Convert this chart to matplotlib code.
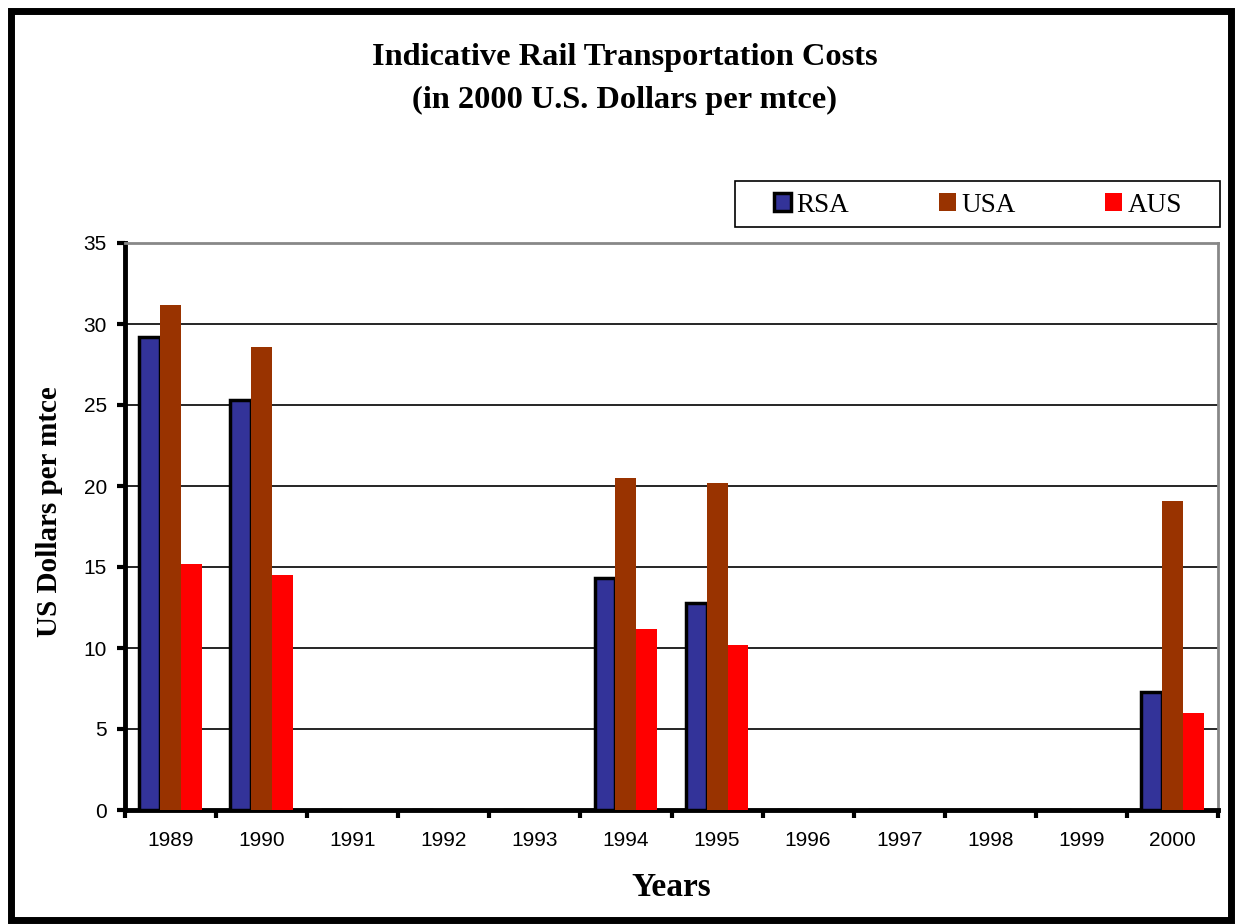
import matplotlib
matplotlib.use("Agg")
import matplotlib.pyplot as plt
import numpy as np
from matplotlib.patches import Rectangle

years = ["1989", "1990", "1991", "1992", "1993", "1994",
         "1995", "1996", "1997", "1998", "1999", "2000"]
rsa = [29.2, 25.3, 0, 0, 0, 14.3, 12.8, 0, 0, 0, 0, 7.3]
usa = [31.2, 28.6, 0, 0, 0, 20.5, 20.2, 0, 0, 0, 0, 19.1]
aus = [15.2, 14.5, 0, 0, 0, 11.2, 10.2, 0, 0, 0, 0, 6.0]

SERIES = [
    ("RSA", rsa, "#333399", "black"),
    ("USA", usa, "#993300", "none"),
    ("AUS", aus, "#FF0000", "none"),
]

SERIF = "Liberation Serif"
SANS = "Liberation Sans"

fig = plt.figure(figsize=(12.38, 9.24), dpi=100)
W, H = 1238, 924
ax = fig.add_axes([125 / W, 1 - 810 / H, (1218 - 125) / W, (810 - 243) / H])

x = np.arange(len(years))
width = 0.23
for i, (name, vals, color, edge) in enumerate(SERIES):
    ax.bar(x + (i - 1) * width, vals, width, color=color, label=name,
           edgecolor=edge, linewidth=2.5 if edge != "none" else 0, zorder=3)

ax.set_xlim(-0.5, len(years) - 0.5)
ax.set_ylim(0, 35)
ax.set_yticks(range(0, 36, 5))
ax.yaxis.grid(True, color="black", linewidth=1.2, zorder=1)
ax.set_axisbelow(True)

# category ticks at the boundaries, labels centred
ax.set_xticks(np.arange(-0.5, len(years), 1.0))
ax.set_xticklabels([])
ax.set_xticks(x, minor=True)
ax.set_xticklabels(years, minor=True, fontfamily=SANS, fontsize=15)
ax.tick_params(axis="x", which="minor", length=0, pad=15)
ax.tick_params(axis="x", which="major", direction="out", length=6, width=3)
ax.tick_params(axis="y", direction="out", length=6, width=3, pad=7)
for lbl in ax.get_yticklabels():
    lbl.set_fontfamily(SANS)
    lbl.set_fontsize(15)

for side in ("left", "bottom"):
    ax.spines[side].set_linewidth(3.5)
for side in ("top", "right"):
    ax.spines[side].set_color("#888888")
    ax.spines[side].set_linewidth(2)

fig.text(50 / W, 1 - 512 / H, "US Dollars per mtce", rotation=90,
         ha="center", va="center", fontfamily=SERIF, fontweight="bold", fontsize=21)
fig.text(671 / W, 1 - 887 / H, "Years", ha="center", va="center",
         fontfamily=SERIF, fontweight="bold", fontsize=24)

fig.text(625 / W, 1 - 57 / H, "Indicative Rail Transportation Costs",
         ha="center", va="center", fontfamily=SERIF, fontweight="bold", fontsize=23.3)
fig.text(625 / W, 1 - 100 / H, "(in 2000 U.S. Dollars per mtce)",
         ha="center", va="center", fontfamily=SERIF, fontweight="bold", fontsize=23.3)

leg = fig.legend(loc="center", bbox_to_anchor=(978 / W, 1 - 205 / H), ncol=3,
                 frameon=False, prop={"family": SERIF, "size": 19.5},
                 columnspacing=3.3, handlelength=0.63, handleheight=0.63,
                 handletextpad=0.2, borderpad=0)
fig.patches.append(Rectangle((735 / W, 1 - 227 / H), 485 / W, 46 / H,
                             transform=fig.transFigure, fill=False,
                             edgecolor="black", linewidth=1.2))

# outer chart-area border
fig.patches.append(Rectangle((11 / W, 4 / H), 1220 / W, 909 / H,
                             transform=fig.transFigure, fill=False,
                             edgecolor="black", linewidth=5))

fig.savefig("out.png", dpi=100)
